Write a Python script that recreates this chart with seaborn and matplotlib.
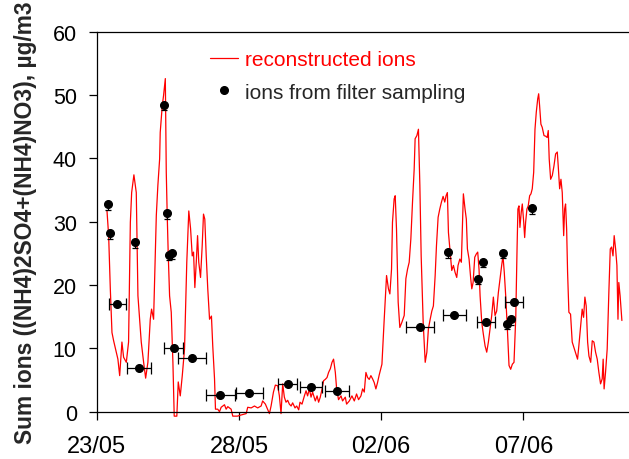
import matplotlib
matplotlib.use("Agg")
import matplotlib.pyplot as plt
from matplotlib.lines import Line2D
import numpy as np
import pandas as pd
import seaborn as sns

# ---- reconstructed ions (hours since 23/05 00:00, ug/m3) ----
hours = [8.7, 10.1, 11.5, 12.9, 14.3, 17.9, 19.4, 21.3, 22.7, 25.0, 26.9, 28.4, 29.5, 31.4, 33.4,
         34.8, 37.6, 39.6, 41.3, 43.2, 45.2, 46.3, 48.0, 50.3, 51.6, 53.1, 53.6, 55.3, 56.4, 57.9,
         58.7, 59.5, 60.4, 61.5, 62.9, 64.3, 65.4, 67.6, 68.8, 70.5, 72.2, 74.1, 76.0, 77.7, 79.2,
         80.6, 81.7, 82.8, 84.0, 85.1, 86.1, 87.6, 89.0, 90.1, 91.2, 92.4, 93.7, 95.2, 96.8, 97.9,
         99.4, 100.2, 102.1, 103.6, 105.0, 107.8, 109.2, 110.6, 113.4, 114.8, 118.7, 122.1, 126.1,
         127.4, 130.3, 133.1, 135.8, 138.7, 140.0, 142.3, 144.3, 145.7, 147.1, 149.1, 150.7, 152.7,
         154.1, 155.5, 156.9, 158.3, 159.7, 161.1, 162.5, 164.0, 165.3, 167.3, 168.7, 170.4, 171.5,
         173.2, 175.2, 176.6, 177.9, 179.4, 180.8, 182.1, 184.4, 185.9, 187.2, 188.6, 190.1, 191.4,
         192.8, 194.3, 195.6, 197.1, 198.5, 199.8, 201.3, 202.4, 204.0, 206.1, 207.4, 209.7, 210.8,
         213.1, 215.3, 217.3, 219.2, 220.9, 222.9, 224.3, 225.7, 227.1, 228.5, 229.9, 231.3, 232.7,
         234.1, 235.5, 236.9, 238.3, 240.6, 242.5, 244.5, 246.1, 247.3, 248.7, 249.5, 250.9, 251.8,
         252.9, 254.3, 255.7, 257.4, 259.4, 260.8, 262.2, 263.6, 265.0, 266.4, 267.8, 268.6, 270.1,
         271.4, 272.6, 273.7, 275.4, 277.1, 278.5, 279.8, 281.3, 282.7, 284.0, 285.5, 286.6, 288.0,
         289.4, 290.8, 292.2, 293.6, 294.7, 295.8, 296.7, 298.1, 299.5, 300.9, 302.3, 303.7, 304.8,
         306.3, 307.6, 309.3, 310.7, 311.8, 312.7, 314.1, 315.5, 316.4, 317.5, 318.9, 320.2, 321.4,
         322.5, 323.4, 324.8, 326.1, 327.6, 329.0, 330.4, 331.8, 333.2, 334.6, 336.0, 337.4, 338.8,
         340.2, 341.6, 342.7, 343.8, 345.0, 346.4, 347.8, 349.2, 350.6, 352.0, 353.5, 354.6, 355.3,
         356.2, 357.0, 358.1, 359.0, 360.2, 361.0, 361.8, 362.9, 364.0, 365.2, 366.3, 367.4, 368.6,
         369.7, 370.8, 372.0, 372.8, 373.6, 374.7, 375.8, 377.3, 378.7, 380.0, 380.9, 381.7, 382.9,
         384.3, 385.7, 387.1, 388.5, 389.3, 390.5, 391.6, 392.7, 393.9, 394.7, 395.5, 396.4, 397.2,
         398.3, 399.7, 401.1, 403.4, 405.6, 406.7, 408.2, 409.5, 410.7, 411.8, 412.9, 414.1, 415.2,
         416.7, 418.0, 419.4, 420.8, 422.2, 423.6, 425.0, 426.4, 427.2, 428.0, 429.2, 430.6, 432.1,
         433.2, 434.3, 435.5, 436.5, 437.7, 438.8, 439.7, 440.4, 441.5, 443.0]
ions = [31.7, 27.8, 19.4, 12.5, 11.2, 8.3, 5.7, 11.0, 8.6, 7.8, 11.0, 29.9, 34.6, 37.4, 34.6,
        18.3, 11.0, 7.8, 5.3, 7.8, 14.6, 16.2, 14.6, 31.0, 35.7, 39.9, 44.1, 48.3, 49.9, 52.6,
        37.8, 31.0, 24.6, 18.3, 15.7, 7.8, -0.7, -0.7, 4.7, 2.5, 5.7, 9.9, 23.6, 31.7, 28.9,
        24.6, 25.2, 19.6, 23.6, 27.8, 23.6, 21.2, 26.2, 31.2, 30.4, 24.6, 19.4, 14.6, 15.1, 10.4,
        5.2, 0.4, 0.4, 0.0, 0.7, 1.1, 0.4, 0.8, 0.4, -0.7, -0.7, -0.5, -0.3,
        0.7, 0.6, 0.9, 0.6, 0.9, 1.7, 1.2, 0.3, -0.3, 0.9, 3.1, 4.2, 4.1,
        2.5, -0.3, 4.4, 2.3, 1.5, 1.8, 1.2, 0.9, 1.4, 0.6, 0.9, 0.3, 1.5,
        1.2, 2.5, 3.3, 2.5, 3.6, 2.3, 3.1, 1.7, 2.5, 1.5, 2.3, 3.6, 4.9,
        5.1, 5.4, 6.2, 6.8, 7.8, 8.3, 6.2, 3.6, 1.9, 2.5, 1.7, 2.3, 1.2,
        1.7, 2.5, 1.7, 2.8, 1.9, 2.5, 3.6, 3.1, 6.2, 5.4, 5.1, 5.7, 5.2,
        4.6, 3.6, 4.6, 5.8, 7.5, 14.5, 21.5, 19.4, 18.6, 22.5, 29.9, 33.6, 34.1,
        28.8, 17.3, 13.3, 14.1, 15.2, 21.0, 22.5, 23.6, 27.3, 33.1, 38.3, 43.1, 43.6,
        44.6, 35.7, 24.6, 14.1, 7.8, 9.4, 13.1, 14.6, 15.9, 16.7, 21.5, 26.2, 30.7,
        32.0, 33.1, 34.0, 33.1, 34.1, 34.6, 28.3, 25.2, 22.3, 23.1, 22.0, 21.2, 23.1,
        24.1, 23.6, 34.4, 32.0, 30.4, 25.7, 24.1, 21.0, 19.4, 20.4, 24.4, 24.9, 25.2,
        22.5, 18.3, 14.1, 12.3, 10.4, 9.4, 11.0, 13.1, 15.2, 18.1, 15.2, 15.9, 18.8,
        21.0, 23.1, 24.6, 22.0, 18.3, 13.1, 7.3, 6.7, 7.5, 7.8, 15.0, 26.0, 32.0,
        32.5, 29.1, 31.5, 32.8, 29.9, 27.5, 29.9, 32.0, 32.5, 34.1, 34.4, 35.2, 37.8,
        44.6, 47.3, 49.4, 50.2, 48.3, 45.4, 44.9, 43.6, 43.5, 43.3, 44.4, 39.9, 36.7,
        37.3, 38.8, 40.7, 41.0, 38.8, 35.2, 36.7, 34.6, 27.8, 32.0, 32.8, 28.8, 22.0,
        15.7, 15.4, 11.0, 9.6, 8.3, 10.4, 13.6, 16.2, 14.9, 18.1, 16.7, 11.0, 8.8,
        7.8, 11.2, 11.0, 9.4, 8.3, 6.2, 4.4, 5.2, 8.3, 3.6, 6.2, 9.9, 19.4,
        25.7, 26.0, 24.6, 27.8, 25.7, 23.1, 14.6, 20.4, 18.3, 14.4]

# ---- filter samples with sampling interval (hours) ----
filt_h = [17.4, 35.6, 65.1, 80.6, 104.2, 128.8, 161.1, 180.5, 202.7, 273.1, 301.5, 328.2, 351.7]
filt_v = [17.0, 6.9, 10.1, 8.5, 2.7, 3.0, 4.4, 3.9, 3.2, 13.4, 15.2, 14.1, 17.3]
filt_dh = [7.1, 10.4, 7.9, 11.8, 12.4, 11.2, 8.0, 9.3, 10.0, 11.8, 9.7, 7.6, 7.7]

# ---- filter samples (short) ----
pt_h = [9.5, 11.5, 32.0, 56.4, 59.2, 60.9, 63.2, 296.4, 321.7, 325.6, 343.0, 345.8, 349.2, 367.4]
pt_v = [32.8, 28.2, 26.8, 48.5, 31.4, 24.8, 25.0, 25.2, 21.0, 23.7, 25.1, 13.9, 14.6, 32.1]
pt_err = 0.9

tick_hours = [0, 120, 240, 360]
tick_labels = ["23/05", "28/05", "02/06", "07/06"]

sns.set_theme(style="ticks")
plt.rcParams['font.family'] = ['Liberation Sans', 'DejaVu Sans']

fig = plt.figure(figsize=(6.29, 4.60), dpi=100)
ax = fig.add_axes([0.1537, 0.1028, 0.8463, 0.8261])

df = pd.DataFrame({"h": hours, "v": ions})
sns.lineplot(data=df, x="h", y="v", color="red", lw=0.9, ax=ax,
             estimator=None, sort=False, clip_on=False)

ax.errorbar(filt_h, filt_v, xerr=filt_dh, fmt='o', color='black', ms=5.5,
            elinewidth=0.9, capsize=4, capthick=0.9, zorder=3)
n = len(pt_h)
ax.errorbar(pt_h, pt_v, yerr=[[pt_err] * n, [0] * n], fmt='o', color='black', ms=5.5,
            elinewidth=0.9, capsize=2.5, capthick=0.9, zorder=3)

ax.set_xlim(0, 449)
ax.set_ylim(0, 60)
ax.set_yticks(range(0, 61, 10))
ax.set_xticks(tick_hours)
ax.set_xticklabels(tick_labels)
ax.set_xlabel("")
ax.tick_params(direction='out', length=6, width=0.9, colors='black')
ax.tick_params(axis='y', pad=8.3, labelsize=15.5)
ax.tick_params(axis='x', pad=11, labelsize=17)
for s in ['left', 'bottom', 'top']:
    ax.spines[s].set_linewidth(0.9)
    ax.spines[s].set_color('black')
ax.spines['right'].set_visible(False)

ax.set_ylabel("Sum ions ((NH4)2SO4+(NH4)NO3), µg/m3", fontsize=16.4, fontweight='bold')
ax.yaxis.set_label_coords(-0.112, 0.5)

handles = [Line2D([], [], color='red', lw=0.9),
           Line2D([], [], ls='none', marker='o', color='black', ms=5.5)]
leg = ax.legend(handles, ["reconstructed ions", "ions from filter sampling"],
                loc='upper left', bbox_to_anchor=(210 / 629, 1 - 51 / 460),
                bbox_transform=fig.transFigure, frameon=False, fontsize=15,
                handlelength=1.35, handletextpad=0.35, borderpad=0, borderaxespad=0,
                labelspacing=0.65)
leg.get_texts()[0].set_color('red')

fig.savefig("out.png", dpi=100)
